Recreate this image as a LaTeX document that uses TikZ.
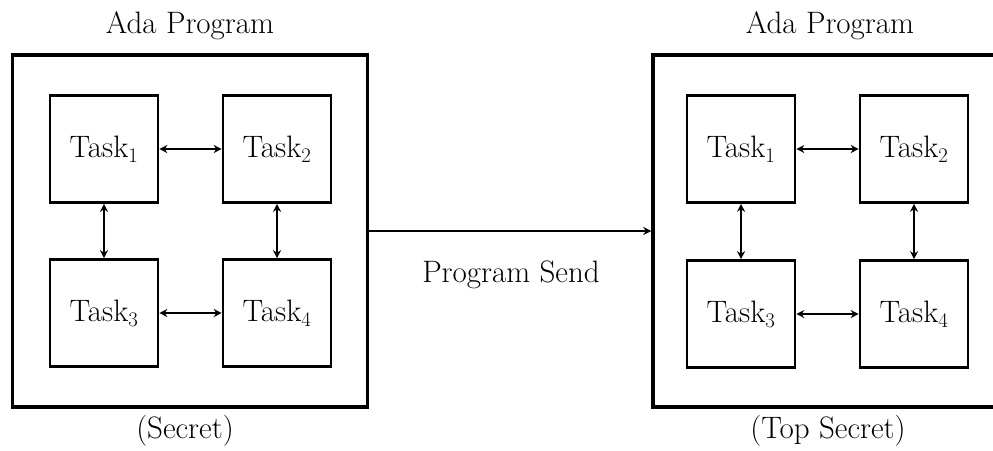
\documentclass[tikz,border=0pt]{standalone}
\usetikzlibrary{arrows.meta}
\begin{document}
\begin{tikzpicture}[x=1pt,y=-1pt,
  outerbox/.style={draw,line width=3.5pt,minimum width=355pt,minimum height=352pt,inner sep=0pt},
  taskbox/.style={draw,line width=2.6pt,minimum width=108pt,minimum height=107pt,inner sep=0pt,font=\fontsize{31}{36}\selectfont},
  lbl/.style={anchor=base,inner sep=0pt,font=\fontsize{31}{36}\selectfont},
  biarrow/.style={line width=2.4pt,{Stealth[length=8pt,width=8pt]}-{Stealth[length=8pt,width=8pt]}},
  sendarrow/.style={line width=2.4pt,-{Stealth[length=8pt,width=8pt]}}]
\useasboundingbox (0,0) rectangle (993,450);
% left program
\node[outerbox] (L) at (190,231) {};
\node[taskbox] (L1) at (104,149) {Task$_1$};
\node[taskbox] (L2) at (277,149) {Task$_2$};
\node[taskbox] (L3) at (104,313) {Task$_3$};
\node[taskbox] (L4) at (277,313) {Task$_4$};
\draw[biarrow] (L1) -- (L2);
\draw[biarrow] (L3) -- (L4);
\draw[biarrow] (L1) -- (L3);
\draw[biarrow] (L2) -- (L4);
\node[lbl] (LT) at (190,33) {Ada Program};
\node[lbl] (LB) at (185,438) {(Secret)};
% right program
\node[outerbox,minimum width=360pt] (R) at (833,231) {};
\node[taskbox] (R1) at (741,149) {Task$_1$};
\node[taskbox] (R2) at (914,149) {Task$_2$};
\node[taskbox] (R3) at (741,314) {Task$_3$};
\node[taskbox] (R4) at (914,314) {Task$_4$};
\draw[biarrow] (R1) -- (R2);
\draw[biarrow] (R3) -- (R4);
\draw[biarrow] (R1) -- (R3);
\draw[biarrow] (R2) -- (R4);
\node[lbl] (RT) at (830,33) {Ada Program};
\node[lbl] (RB) at (828,438) {(Top Secret)};
% send
\draw[sendarrow] (L.east) -- (R.west);
\node[lbl] (S) at (511,282) {Program Send};
\end{tikzpicture}
\end{document}
